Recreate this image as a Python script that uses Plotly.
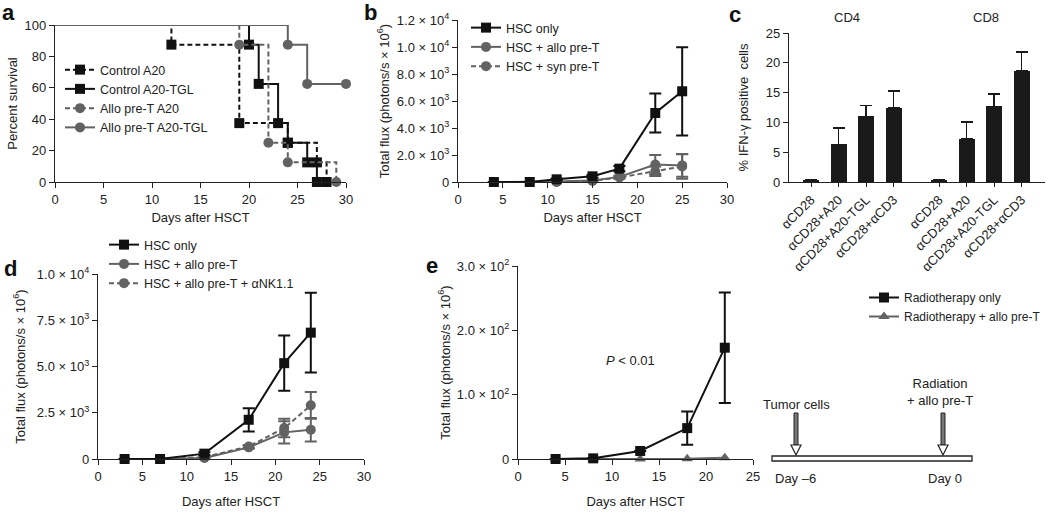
import plotly.graph_objects as go

W, H = 1050, 513
def px(x): return min(1.0, max(0.0, x / W))
def py(y): return min(1.0, max(0.0, 1 - y / H))

BLACK = "#111111"
GREY = "#626262"
AX = "#222222"
FONT = "Liberation Sans, Arial, Helvetica, sans-serif"
DASH = "5px,3px"

# ---------------- Panel a: survival ----------------
a_ctrl_a20_days = [0, 12, 19, 24, 27, 28]
a_ctrl_a20_surv = [100, 87.5, 37.5, 25, 12.5, 0]
a_ctrl_tgl_days = [0, 20, 21, 23, 24, 26, 27]
a_ctrl_tgl_surv = [100, 87.5, 62.5, 37.5, 25, 12.5, 0]
a_allo_a20_days = [0, 19, 22, 24, 29]
a_allo_a20_surv = [100, 87.5, 25, 12.5, 0]
a_allo_tgl_days = [0, 24, 26, 30]
a_allo_tgl_surv = [100, 87.5, 62.5, 62.5]

# ---------------- Panel b ----------------
b_days = [4, 8, 11, 15, 18, 22, 25]
b_hsc = [0, 0, 200, 420, 990, 5110, 6720]
b_hsc_err = [0, 0, 60, 100, 200, 1450, 3270]
b_allo = [0, 0, 30, 120, 380, 1300, 1230]
b_allo_err = [0, 0, 0, 0, 80, 700, 850]
b_syn = [0, 0, 0, 80, 330, 800, 1150]
b_syn_err = [0, 0, 0, 0, 80, 350, 900]

# ---------------- Panel c ----------------
c_labels = ["αCD28", "αCD28+A20", "αCD28+A20-TGL", "αCD28+αCD3"]
c_cd4 = [0.4, 6.3, 11.0, 12.5]
c_cd4_err = [0, 2.8, 1.8, 2.8]
c_cd8 = [0.4, 7.2, 12.7, 18.7]
c_cd8_err = [0, 2.9, 2.1, 3.1]
c_group_gap = 4.65

# ---------------- Panel d ----------------
d_days = [3, 7, 12, 17, 21, 24]
d_hsc = [0, 0, 290, 2120, 5180, 6830]
d_hsc_err = [0, 0, 80, 630, 1490, 2160]
d_allo = [0, 0, 50, 630, 1440, 1580]
d_allo_err = [0, 0, 0, 80, 600, 630]
d_nk = [0, 0, 100, 680, 1670, 2900]
d_nk_err = [0, 0, 0, 80, 500, 720]

# ---------------- Panel e ----------------
e_days = [4, 8, 13, 18, 22]
e_rt = [0, 1, 12.5, 48, 173]
e_rt_err = [0, 0, 0, 26, 86]
e_allo = [0, 0, 0, 0.5, 2]

fig = go.Figure()

# Panel a traces (data traces + legend-only traces)
a_series = [
    ("Control A20", a_ctrl_a20_days, a_ctrl_a20_surv, BLACK, DASH, "square"),
    ("Control A20-TGL", a_ctrl_tgl_days, a_ctrl_tgl_surv, BLACK, "solid", "square"),
    ("Allo pre-T A20", a_allo_a20_days, a_allo_a20_surv, GREY, DASH, "circle"),
    ("Allo pre-T A20-TGL", a_allo_tgl_days, a_allo_tgl_surv, GREY, "solid", "circle"),
]
for i, (name, xs, ys, col, dash, sym) in enumerate(a_series):
    fig.add_trace(go.Scatter(
        x=xs, y=ys, mode="lines", line_shape="hv",
        line=dict(color=col, width=2, dash=dash),
        xaxis="x", yaxis="y", showlegend=False, cliponaxis=False))
    fig.add_trace(go.Scatter(
        x=xs[1:], y=ys[1:], mode="markers",
        marker=dict(symbol=sym, size=10, color=col),
        xaxis="x", yaxis="y", showlegend=False, cliponaxis=False))
    fig.add_trace(go.Scatter(
        x=[None], y=[None], name=name, mode="lines+markers",
        line=dict(color=col, width=2, dash=dash),
        marker=dict(symbol=sym, size=10, color=col),
        xaxis="x", yaxis="y", legend="legend", legendrank=i + 1))

# Panel b traces
b_series = [
    ("HSC + syn pre-T", b_syn, b_syn_err, GREY, DASH, "circle", 3),
    ("HSC + allo pre-T", b_allo, b_allo_err, GREY, "solid", "circle", 2),
    ("HSC only", b_hsc, b_hsc_err, BLACK, "solid", "square", 1),
]
for name, ys, err, col, dash, sym, rank in b_series:
    fig.add_trace(go.Scatter(
        x=b_days, y=ys, name=name, mode="lines+markers",
        line=dict(color=col, width=2, dash=dash),
        marker=dict(symbol=sym, size=10, color=col),
        error_y=dict(type="data", array=err, color=col, thickness=2, width=6),
        xaxis="x2", yaxis="y2", legend="legend2", cliponaxis=False, legendrank=rank))

# Panel c bars
c_x4 = list(range(len(c_labels)))
c_x8 = [i + c_group_gap for i in range(len(c_labels))]
for xs, ys, err in [(c_x4, c_cd4, c_cd4_err), (c_x8, c_cd8, c_cd8_err)]:
    fig.add_trace(go.Bar(
        x=xs, y=ys, width=0.58, marker=dict(color="#1a1a1a", line=dict(width=0)),
        error_y=dict(type="data", array=err, arrayminus=[0] * len(err), symmetric=False,
                     color="#1a1a1a", thickness=1.5, width=6),
        xaxis="x3", yaxis="y3", showlegend=False))

# Panel d traces
d_series = [
    ("HSC + allo pre-T + αNK1.1", d_nk, d_nk_err, GREY, DASH, "circle", 3),
    ("HSC + allo pre-T", d_allo, d_allo_err, GREY, "solid", "circle", 2),
    ("HSC only", d_hsc, d_hsc_err, BLACK, "solid", "square", 1),
]
for name, ys, err, col, dash, sym, rank in d_series:
    fig.add_trace(go.Scatter(
        x=d_days, y=ys, name=name, mode="lines+markers",
        line=dict(color=col, width=2, dash=dash),
        marker=dict(symbol=sym, size=10, color=col),
        error_y=dict(type="data", array=err, color=col, thickness=2, width=6),
        xaxis="x4", yaxis="y4", legend="legend3", cliponaxis=False, legendrank=rank))

# Panel e traces
fig.add_trace(go.Scatter(
    x=e_days, y=e_allo, name="Radiotherapy + allo pre-T", mode="lines+markers",
    line=dict(color=GREY, width=2), marker=dict(symbol="triangle-up", size=10, color=GREY),
    xaxis="x5", yaxis="y5", legend="legend4", cliponaxis=False, legendrank=2))
fig.add_trace(go.Scatter(
    x=e_days, y=e_rt, name="Radiotherapy only", mode="lines+markers",
    line=dict(color=BLACK, width=2), marker=dict(symbol="square", size=10, color=BLACK),
    error_y=dict(type="data", array=e_rt_err, color=BLACK, thickness=2, width=6),
    xaxis="x5", yaxis="y5", legend="legend4", cliponaxis=False, legendrank=1))

# ---------------- Axes ----------------
def ax(**kw):
    d = dict(showline=True, linecolor=AX, linewidth=1.3, ticks="outside", ticklen=5,
             tickwidth=1.2, tickcolor=AX, showgrid=False, zeroline=False, automargin=False,
             tickfont=dict(size=13, color=AX, family=FONT),
             title_font=dict(size=13, color=AX, family=FONT))
    d.update(kw)
    return d

def sci(v, e):
    return f"{v} × 10<sup>{e}</sup>"

def flux_title(s):
    return dict(text="Total flux (photons/s × 10<sup>6</sup>)", standoff=s)

layout = dict(
    width=W, height=H, margin=dict(l=0, r=0, t=0, b=0, autoexpand=False),
    paper_bgcolor="white", plot_bgcolor="white",
    font=dict(family=FONT, color=AX, size=13),
    bargap=0,
    # a
    xaxis=ax(domain=[px(55), px(346)], anchor="y", range=[0, 30], tickvals=[0, 5, 10, 15, 20, 25, 30],
             title=dict(text="Days after HSCT", standoff=7)),
    yaxis=ax(domain=[py(182), py(25)], anchor="x", range=[0, 100], tickvals=[0, 20, 40, 60, 80, 100],
             title=dict(text="Percent survival", standoff=3)),
    # b
    xaxis2=ax(domain=[px(458), px(727)], anchor="y2", range=[0, 30], tickvals=[0, 5, 10, 15, 20, 25, 30],
              title=dict(text="Days after HSCT", standoff=7)),
    yaxis2=ax(domain=[py(182), py(20)], anchor="x2", range=[0, 12000],
              tickvals=[0, 2000, 4000, 6000, 8000, 10000, 12000],
              ticktext=["0", sci("2.0", 3), sci("4.0", 3), sci("6.0", 3), sci("8.0", 3), sci("1.0", 4), sci("1.2", 4)],
              title=flux_title(4)),
    # c
    xaxis3=ax(domain=[px(789), px(1045)], anchor="y3", range=[-0.8, 8.5],
              tickvals=c_x4 + c_x8, ticktext=c_labels + c_labels, tickangle=-45, ticklen=4),
    yaxis3=ax(domain=[py(182), py(33)], anchor="x3", range=[0, 25], tickvals=[0, 5, 10, 15, 20, 25],
              title=dict(text="% IFN-γ positive  cells", standoff=14)),
    # d
    xaxis4=ax(domain=[px(98), px(364)], anchor="y4", range=[0, 30], tickvals=[0, 5, 10, 15, 20, 25, 30],
              title=dict(text="Days after HSCT", standoff=14)),
    yaxis4=ax(domain=[py(459), py(274)], anchor="x4", range=[0, 10000],
              tickvals=[0, 2500, 5000, 7500, 10000],
              ticktext=["0", sci("2.5", 3), sci("5.0", 3), sci("7.5", 3), sci("1.0", 4)],
              title=flux_title(8)),
    # e
    xaxis5=ax(domain=[px(518), px(753)], anchor="y5", range=[0, 25], tickvals=[0, 5, 10, 15, 20, 25],
              title=dict(text="Days after HSCT", standoff=14)),
    yaxis5=ax(domain=[py(459), py(266)], anchor="x5", range=[0, 300],
              tickvals=[0, 100, 200, 300],
              ticktext=["0", sci("1.0", 2), sci("2.0", 2), sci("3.0", 2)],
              title=flux_title(3)),
)

leg_common = dict(bgcolor="rgba(0,0,0,0)", borderwidth=0, font=dict(size=12.5, color=AX, family=FONT),
                  xanchor="left", yanchor="top", tracegroupgap=0, itemwidth=30)
layout["legend"] = dict(leg_common, x=px(60), y=py(55))
layout["legend2"] = dict(leg_common, x=px(466), y=py(13))
layout["legend3"] = dict(leg_common, x=px(104), y=py(230))
layout["legend4"] = dict(leg_common, x=px(864), y=py(283), font=dict(size=12, color=AX, family=FONT))
fig.update_layout(**layout)

# ---------------- Annotations ----------------
ann = []
for lab, x, y in [("a", 8, 12), ("b", 370, 12), ("c", 735, 15), ("d", 10, 268), ("e", 432, 265)]:
    ann.append(dict(text=f"<b>{lab}</b>", x=px(x), y=py(y), xref="paper", yref="paper",
                    showarrow=False, font=dict(size=22, color="#111", family=FONT),
                    xanchor="center", yanchor="middle"))
for lab, x, y in [("CD4", 847, 17), ("CD8", 986, 17)]:
    ann.append(dict(text=lab, x=px(x), y=py(y), xref="paper", yref="paper", showarrow=False,
                    font=dict(size=13, color=AX, family=FONT), xanchor="center", yanchor="middle"))
ann.append(dict(text="<i>P</i> < 0.01", x=px(630), y=py(360), xref="paper", yref="paper",
                showarrow=False, font=dict(size=13, color=AX, family=FONT), xanchor="center", yanchor="middle"))
# timeline labels
for lab, x, y in [("Tumor cells", 796, 404), ("Radiation<br>+ allo pre-T", 940, 392),
                  ("Day –6", 795, 478), ("Day 0", 945, 478)]:
    ann.append(dict(text=lab, x=px(x), y=py(y), xref="paper", yref="paper", showarrow=False,
                    font=dict(size=13, color=AX, family=FONT), xanchor="center", yanchor="middle"))
fig.update_layout(annotations=ann)

# ---------------- Timeline diagram shapes ----------------
shapes = [dict(type="rect", xref="paper", yref="paper", x0=px(772), x1=px(972), y0=py(461), y1=py(456),
               line=dict(color="#222", width=1.3), fillcolor="white")]
for xc in [796, 943]:
    shapes.append(dict(type="rect", xref="paper", yref="paper", x0=px(xc - 2), x1=px(xc + 2),
                       y0=py(445), y1=py(413), line=dict(color="#222", width=1), fillcolor="#777"))
    path = (f"M {px(xc - 5)},{py(445)} L {px(xc + 5)},{py(445)} L {px(xc)},{py(455)} Z")
    shapes.append(dict(type="path", xref="paper", yref="paper", path=path,
                       line=dict(color="#222", width=1.2), fillcolor="white"))
fig.update_layout(shapes=shapes)

# remove the default 8px page margin so the figure sits at the window's corner
fig.write_html("out.html", config={"displayModeBar": False},
               post_script="document.body.style.margin='0';")
